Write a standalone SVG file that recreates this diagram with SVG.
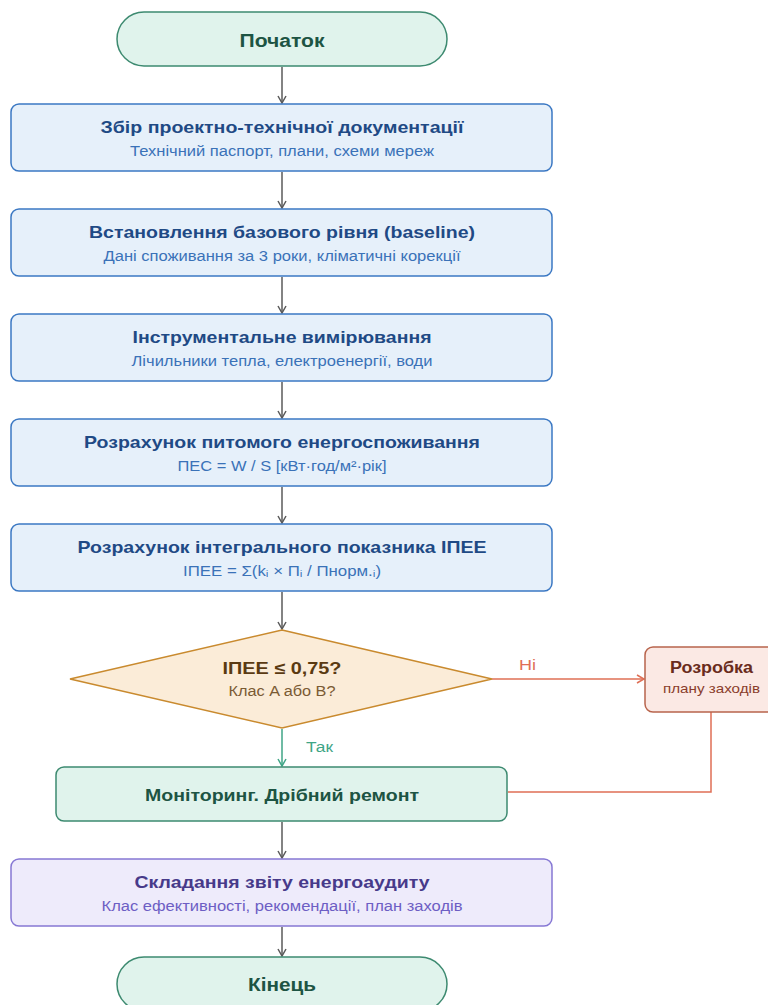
<svg xmlns="http://www.w3.org/2000/svg" width="768" height="1005" viewBox="0 0 768 1005">
<style>
text{font-family:"Liberation Sans",Arial,sans-serif;text-anchor:middle}
.term{fill:#e0f3ec;stroke:#3d8a70;stroke-width:1.5}
.termt{font-size:18px;font-weight:bold;fill:#1d5443}
.blue{fill:#e6f0fa;stroke:#3b78c3;stroke-width:1.5}
.bt{font-size:16.5px;font-weight:bold;fill:#1f4a85}
.bs{font-size:14px;fill:#3a72b8}
.con{fill:none;stroke:#5a5a5a;stroke-width:1.5}
</style>
<defs>
<marker id="ag" markerWidth="10" markerHeight="10" refX="8" refY="5" orient="auto" markerUnits="userSpaceOnUse"><path d="M1,1 L8,5 L1,9" fill="none" stroke="#5a5a5a" stroke-width="1.5"/></marker>
<marker id="at" markerWidth="10" markerHeight="10" refX="8" refY="5" orient="auto" markerUnits="userSpaceOnUse"><path d="M1,1 L8,5 L1,9" fill="none" stroke="#3fa586" stroke-width="1.5"/></marker>
<marker id="ar" markerWidth="10" markerHeight="10" refX="8" refY="5" orient="auto" markerUnits="userSpaceOnUse"><path d="M1,1 L8,5 L1,9" fill="none" stroke="#df6f55" stroke-width="1.5"/></marker>
</defs>
<rect width="768" height="1005" fill="#ffffff"/>
<g id="connectors">
<line class="con" x1="282" y1="67" x2="282" y2="103" marker-end="url(#ag)"/>
<line class="con" x1="282" y1="172" x2="282" y2="208" marker-end="url(#ag)"/>
<line class="con" x1="282" y1="277" x2="282" y2="313" marker-end="url(#ag)"/>
<line class="con" x1="282" y1="382" x2="282" y2="418" marker-end="url(#ag)"/>
<line class="con" x1="282" y1="487" x2="282" y2="523" marker-end="url(#ag)"/>
<line class="con" x1="282" y1="592" x2="282" y2="629" marker-end="url(#ag)"/>
<line x1="282" y1="729" x2="282" y2="766" stroke="#3fa586" stroke-width="1.5" marker-end="url(#at)"/>
<text x="319.5" y="752" font-size="14" fill="#3fa586" textLength="27" lengthAdjust="spacingAndGlyphs">Так</text>
<line x1="492" y1="679" x2="644" y2="679" stroke="#df6f55" stroke-width="1.5" marker-end="url(#ar)"/>
<text x="527.5" y="670" font-size="14" fill="#df6f55" textLength="17" lengthAdjust="spacingAndGlyphs">Ні</text>
<polyline points="711,712 711,792 508,792" fill="none" stroke="#df6f55" stroke-width="1.5"/>
<line class="con" x1="282" y1="822" x2="282" y2="858" marker-end="url(#ag)"/>
<line class="con" x1="282" y1="927" x2="282" y2="956" marker-end="url(#ag)"/>
</g>
<g id="start">
<rect class="term" x="117" y="12" width="330" height="54" rx="27"/>
<text class="termt" x="282" y="47" textLength="85" lengthAdjust="spacingAndGlyphs">Початок</text>
</g>
<g id="n1">
<rect class="blue" x="11" y="104" width="541" height="67" rx="8"/>
<text class="bt" x="282" y="133" textLength="363" lengthAdjust="spacingAndGlyphs">Збір проектно-технічної документації</text>
<text class="bs" x="282" y="156" textLength="304" lengthAdjust="spacingAndGlyphs">Технічний паспорт, плани, схеми мереж</text>
</g>
<g id="n2">
<rect class="blue" x="11" y="209" width="541" height="67" rx="8"/>
<text class="bt" x="282" y="238" textLength="386" lengthAdjust="spacingAndGlyphs">Встановлення базового рівня (baseline)</text>
<text class="bs" x="282" y="261" textLength="357" lengthAdjust="spacingAndGlyphs">Дані споживання за 3 роки, кліматичні корекції</text>
</g>
<g id="n3">
<rect class="blue" x="11" y="314" width="541" height="67" rx="8"/>
<text class="bt" x="282" y="343" textLength="299" lengthAdjust="spacingAndGlyphs">Інструментальне вимірювання</text>
<text class="bs" x="282" y="366" textLength="301" lengthAdjust="spacingAndGlyphs">Лічильники тепла, електроенергії, води</text>
</g>
<g id="n4">
<rect class="blue" x="11" y="419" width="541" height="67" rx="8"/>
<text class="bt" x="282" y="448" textLength="396" lengthAdjust="spacingAndGlyphs">Розрахунок питомого енергоспоживання</text>
<text class="bs" x="282" y="471" textLength="209" lengthAdjust="spacingAndGlyphs">ПЕС = W / S [кВт·год/м²·рік]</text>
</g>
<g id="n5">
<rect class="blue" x="11" y="524" width="541" height="67" rx="8"/>
<text class="bt" x="282" y="553" textLength="409" lengthAdjust="spacingAndGlyphs">Розрахунок інтегрального показника ІПЕЕ</text>
<text class="bs" x="282" y="576" textLength="198" lengthAdjust="spacingAndGlyphs">ІПЕЕ = Σ(kᵢ × Пᵢ / Пнорм.ᵢ)</text>
</g>
<g id="decision">
<polygon points="282,630 492,679 282,728 70,679" fill="#fbecd8" stroke="#c98a2e" stroke-width="1.5"/>
<text x="282" y="674" font-size="16.5" font-weight="bold" fill="#5a3a12" textLength="119" lengthAdjust="spacingAndGlyphs">ІПЕЕ ≤ 0,75?</text>
<text x="282" y="696" font-size="14" fill="#7a5a33" textLength="107" lengthAdjust="spacingAndGlyphs">Клас A або B?</text>
</g>
<g id="plan">
<rect x="645" y="647" width="132" height="65" rx="8" fill="#fbe9e4" stroke="#b8644c" stroke-width="1.5"/>
<text x="711.5" y="673" font-size="16" font-weight="bold" fill="#6a2c1c" textLength="83" lengthAdjust="spacingAndGlyphs">Розробка</text>
<text x="711.5" y="693" font-size="13" fill="#8a3d2b" textLength="97" lengthAdjust="spacingAndGlyphs">плану заходів</text>
</g>
<g id="monitor">
<rect class="term" x="56" y="767" width="451" height="54" rx="8"/>
<text x="282" y="801" font-size="16.5" font-weight="bold" fill="#1d5443" textLength="274" lengthAdjust="spacingAndGlyphs">Моніторинг. Дрібний ремонт</text>
</g>
<g id="report">
<rect x="11" y="859" width="541" height="67" rx="8" fill="#eeebfb" stroke="#8678d4" stroke-width="1.5"/>
<text x="282" y="888" font-size="16.5" font-weight="bold" fill="#473a8a" textLength="295" lengthAdjust="spacingAndGlyphs">Складання звіту енергоаудиту</text>
<text x="282" y="911" font-size="14" fill="#6d5ec4" textLength="361" lengthAdjust="spacingAndGlyphs">Клас ефективності, рекомендації, план заходів</text>
</g>
<g id="end">
<rect class="term" x="117" y="957" width="330" height="54" rx="27"/>
<text class="termt" x="282" y="991" textLength="68" lengthAdjust="spacingAndGlyphs">Кінець</text>
</g>
</svg>
